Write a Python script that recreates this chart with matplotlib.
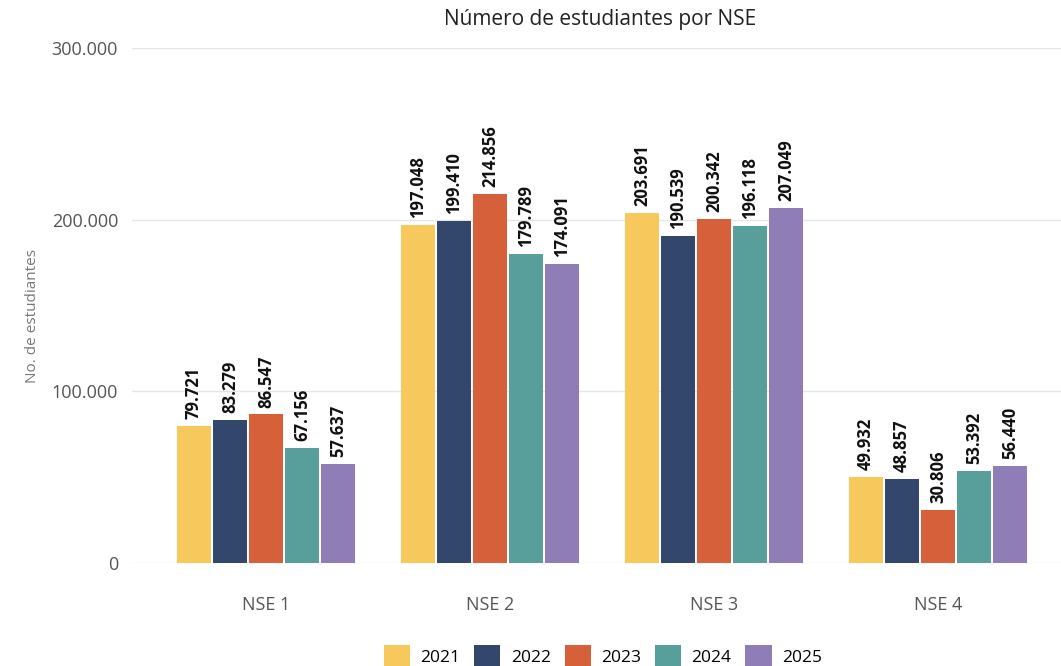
import numpy as np
import matplotlib.pyplot as plt
from matplotlib.ticker import FuncFormatter

groups = ['NSE 1', 'NSE 2', 'NSE 3', 'NSE 4']
years = ['2021', '2022', '2023', '2024', '2025']
values = {
    '2021': [79721, 197048, 203691, 49932],
    '2022': [83279, 199410, 190539, 48857],
    '2023': [86547, 214856, 200342, 30806],
    '2024': [67156, 179789, 196118, 53392],
    '2025': [57637, 174091, 207049, 56440],
}
colors = ['#F7C95C', '#33466B', '#D5603A', '#589E9A', '#8F7DB8']

plt.rcParams['font.family'] = ['Open Sans', 'DejaVu Sans']

fig = plt.figure(figsize=(10.61, 6.66), dpi=100)
ax = fig.add_axes([132/1061, 1 - 563/666, 1 - 132/1061, (563 - 48)/666])

def fmt(v, pos=None):
    return f"{int(v):,}".replace(',', '.')

x = np.arange(len(groups))
step = 36 / 224
width = 34 / 224
for i, y in enumerate(years):
    pos = x + (i - 2) * step
    bars = ax.bar(pos, values[y], width=width, color=colors[i], label=y, zorder=3)
    for b, v in zip(bars, values[y]):
        ax.text(b.get_x() + b.get_width() / 2, v + 4000, fmt(v), rotation=90,
                ha='center', va='bottom', fontsize=12, fontweight='bold', color='#111111')

ax.set_xlim(-0.598, 3.549)
ax.set_ylim(0, 300000)
ax.set_yticks([0, 100000, 200000, 300000])
ax.yaxis.set_major_formatter(FuncFormatter(fmt))
ax.set_xticks(x)
ax.set_xticklabels(groups)
ax.tick_params(axis='both', length=0, labelsize=13, colors='#555555', pad=10)
ax.tick_params(axis='x', pad=24)
ax.grid(axis='y', color='#e6e6e6', linewidth=1, zorder=0)
for s in ax.spines.values():
    s.set_visible(False)

ax.set_ylabel('No. de estudiantes', fontsize=11, color='#777777')
ax.yaxis.set_label_coords(-92/929, 0.48)
fig.suptitle('Número de estudiantes por NSE', x=600/1061, y=1 - 20/666, va='center',
             fontsize=15, color='#222222')

fig.legend(loc='center', bbox_to_anchor=(603/1061, 1 - 656/666), ncol=5, frameon=False,
           fontsize=12.5, handlelength=1.5, handleheight=1.5, columnspacing=0.8,
           handletextpad=0.6, borderaxespad=0)

fig.savefig('out.png', dpi=100)
